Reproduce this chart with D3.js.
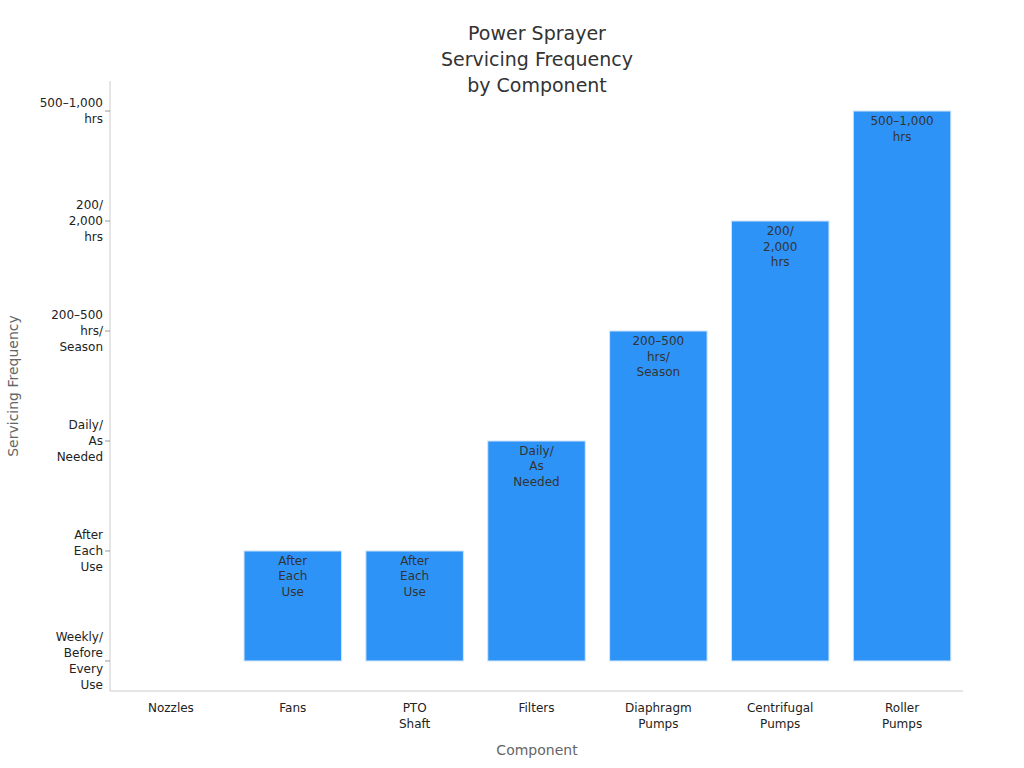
<!DOCTYPE html>
<html><head><meta charset="utf-8">
<script src="https://cdn.jsdelivr.net/npm/d3@7"></script>
<style>body{margin:0;background:#fff}text{font-family:"DejaVu Sans",sans-serif}</style>
</head><body><svg id="c" width="1024" height="768"></svg>
<script>
const categories = [["Nozzles"],["Fans"],["PTO","Shaft"],["Filters"],["Diaphragm","Pumps"],["Centrifugal","Pumps"],["Roller","Pumps"]];
const levels = [["Weekly/","Before","Every","Use"],["After","Each","Use"],["Daily/","As","Needed"],["200–500","hrs/","Season"],["200/","2,000","hrs"],["500–1,000","hrs"]];
const values = [0,1,1,2,3,4,5];
const titleLines = ["Power Sprayer","Servicing Frequency","by Component"];

const svg = d3.select("#c");
const L=110,R=963,T=81,B=691;
const x = d3.scaleBand().domain(d3.range(categories.length)).range([L,R]).paddingInner(0.2).paddingOuter(0.1);
const y = d3.scaleLinear().domain([-0.273,5.273]).range([B,T]);
const base = y(0);

svg.append("g").selectAll("text").data(titleLines).join("text")
 .attr("x",537).attr("y",(d,i)=>40+i*26).attr("text-anchor","middle")
 .attr("font-size",19).attr("fill","#333").text(d=>d);

svg.append("line").attr("x1",L).attr("x2",L).attr("y1",T).attr("y2",B).attr("stroke","#ccc");
svg.append("line").attr("x1",L).attr("x2",R).attr("y1",B).attr("y2",B).attr("stroke","#ccc");

const yt = svg.append("g");
levels.forEach((lines,i)=>{
  const yy=y(i);
  yt.append("line").attr("x1",L-5).attr("x2",L).attr("y1",yy).attr("y2",yy).attr("stroke","#999");
  const t=yt.append("text").attr("text-anchor","end").attr("font-size",12).attr("fill","#222");
  const n=lines.length, start=yy-(n-1)*16/2+4;
  lines.forEach((l,j)=>t.append("tspan").attr("x",L-7).attr("y",start+j*16).text(l));
});

const xt = svg.append("g");
categories.forEach((lines,i)=>{
  const cx=x(i)+x.bandwidth()/2;
  const t=xt.append("text").attr("text-anchor","middle").attr("font-size",12).attr("fill","#222");
  lines.forEach((l,j)=>t.append("tspan").attr("x",cx).attr("y",712+j*16).text(l));
});

values.forEach((v,i)=>{
  if(v<=0) return;
  svg.append("rect").attr("x",x(i)).attr("width",x.bandwidth()).attr("y",y(v)).attr("height",base-y(v))
   .attr("fill","#2e93f7").attr("stroke","#cfe3f7").attr("stroke-width",1);
  const t=svg.append("text").attr("text-anchor","middle").attr("font-size",12).attr("fill","#333");
  levels[v].forEach((l,j)=>t.append("tspan").attr("x",x(i)+x.bandwidth()/2).attr("y",y(v)+14+j*15.5).text(l));
});

svg.append("text").attr("x",537).attr("y",755).attr("text-anchor","middle").attr("font-size",14).attr("fill","#666").text("Component");
svg.append("text").attr("transform","translate(18,386) rotate(-90)").attr("text-anchor","middle").attr("font-size",14).attr("fill","#666").text("Servicing Frequency");
</script></body></html>
